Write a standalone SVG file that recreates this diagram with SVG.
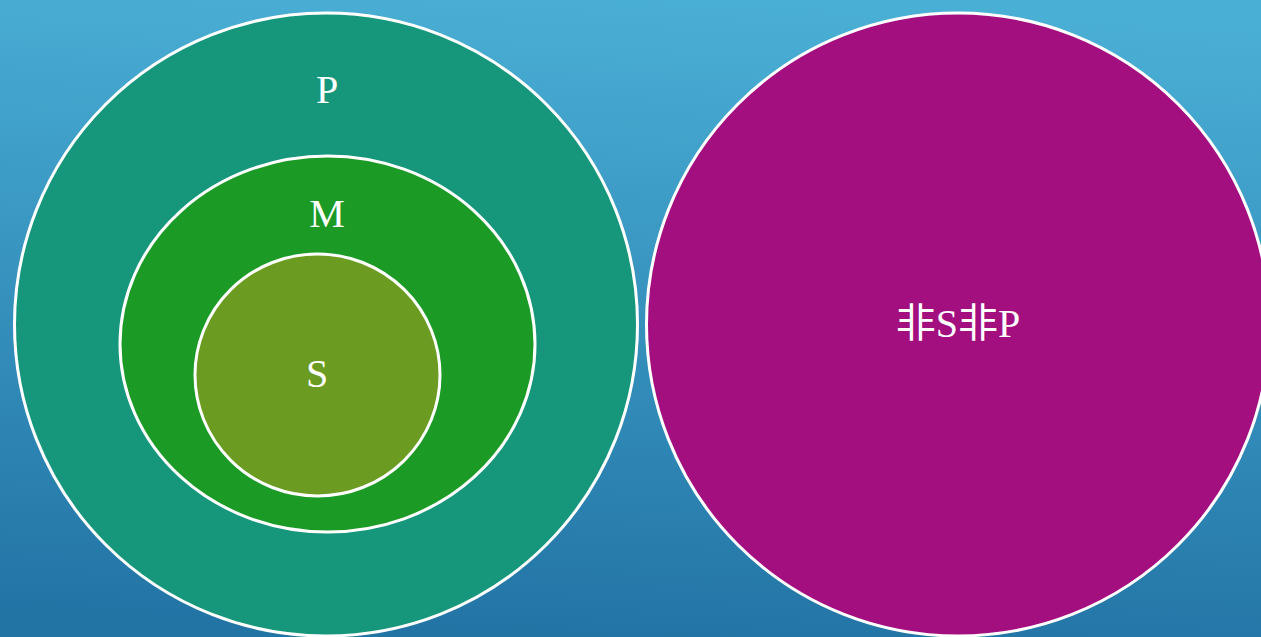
<svg xmlns="http://www.w3.org/2000/svg" width="1261" height="637" viewBox="0 0 1261 637">
<defs>
<linearGradient id="bg" x1="0.45" y1="1" x2="0.55" y2="0">
<stop offset="0" stop-color="#2274A5"/>
<stop offset="1" stop-color="#4AAFD5"/>
</linearGradient>
<style>
.set{stroke:#FFFFFF;stroke-width:3}
.lbl{fill:#FFFFFF;font-family:"Liberation Serif","Noto Sans CJK SC",serif;font-size:40px;text-anchor:middle}
</style>
</defs>
<rect x="0" y="0" width="1261" height="637" fill="url(#bg)"/>
<g id="node-P">
<circle class="set" cx="326" cy="324.5" r="311.5" fill="#16977C"/>
<text class="lbl" x="327" y="103">P</text>
</g>
<g id="node-M">
<ellipse class="set" cx="327.5" cy="344" rx="207.5" ry="188" fill="#1C9A26"/>
<text class="lbl" x="327" y="227">M</text>
</g>
<g id="node-S">
<ellipse class="set" cx="317.5" cy="375" rx="122.5" ry="121" fill="#6B9C21"/>
<text class="lbl" x="317" y="387">S</text>
</g>
<g id="node-nonSnonP">
<circle class="set" cx="958" cy="324.5" r="311.5" fill="#A30F7F"/>
<text class="lbl" x="958" y="337">非S非P</text>
</g>
<g id="connectors"/>
</svg>
